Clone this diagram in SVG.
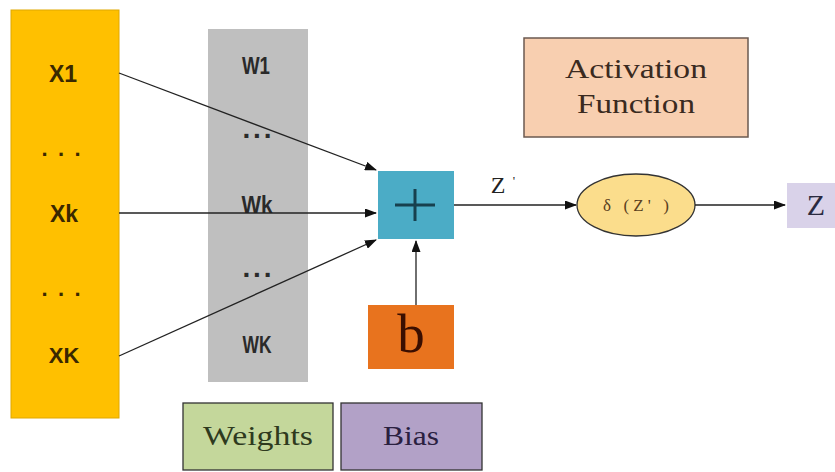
<svg xmlns="http://www.w3.org/2000/svg" width="835" height="472" viewBox="0 0 835 472">
<style>
.sans{font-family:"Liberation Sans",Arial,sans-serif;font-weight:bold;fill:#3a2800;text-anchor:middle}
.wt{font-family:"Liberation Sans",Arial,sans-serif;font-weight:bold;fill:#2a2a2a;text-anchor:middle}
.serif{font-family:"Liberation Serif","Times New Roman",serif;text-anchor:middle}
.conn{stroke:#222;stroke-width:1.3;fill:none;marker-end:url(#ah)}
</style>
<defs>
<marker id="ah" markerWidth="12" markerHeight="9" refX="11" refY="4.5" orient="auto" markerUnits="userSpaceOnUse">
<path d="M0,0 L12,4.5 L0,9 Z" fill="#111"/>
</marker>
</defs>
<rect width="835" height="472" fill="#fff"/>
<g id="inputs">
<rect x="11" y="10" width="108" height="408" fill="#FFC000" stroke="#E0A800" stroke-width="1"/>
<text class="sans" x="63" y="82" font-size="23">X1</text>
<text class="sans" x="61" y="156" font-size="22" textLength="39" lengthAdjust="spacing">. . .</text>
<text class="sans" x="64" y="222" font-size="23">Xk</text>
<text class="sans" x="61" y="296" font-size="22" textLength="39" lengthAdjust="spacing">. . .</text>
<text class="sans" x="64" y="363" font-size="22">XK</text>
</g>
<g id="weights-col">
<rect x="208" y="29" width="100" height="353" fill="#BFBFBF"/>
<text class="wt" x="256" y="74" font-size="23" textLength="28" lengthAdjust="spacingAndGlyphs">W1</text>
<text class="wt" x="257" y="138" font-size="28" textLength="29" lengthAdjust="spacing">...</text>
<text class="wt" x="257" y="213" font-size="24" textLength="31" lengthAdjust="spacingAndGlyphs">Wk</text>
<text class="wt" x="257" y="277" font-size="28" textLength="29" lengthAdjust="spacing">...</text>
<text class="wt" x="257" y="353" font-size="24" textLength="29" lengthAdjust="spacingAndGlyphs">WK</text>
</g>
<g id="sum">
<rect x="378" y="171" width="76" height="68" fill="#4BACC6"/>
<path d="M395,205 H435 M415,189 V221" stroke="#17404E" stroke-width="3"/>
</g>
<g id="bias-b">
<rect x="368" y="305" width="86" height="64" fill="#E8731E"/>
<text class="serif" x="411" y="352" font-size="55" fill="#3a0e00">b</text>
</g>
<g id="activation">
<rect x="524" y="38" width="224" height="99" fill="#F8CFB0" stroke="#6b5a50" stroke-width="1.5"/>
<text class="serif" x="636" y="78" font-size="28" fill="#3a2a20" textLength="142" lengthAdjust="spacingAndGlyphs">Activation</text>
<text class="serif" x="636" y="113" font-size="28" fill="#3a2a20" textLength="118" lengthAdjust="spacingAndGlyphs">Function</text>
</g>
<g id="sigma">
<ellipse cx="636" cy="205" rx="59" ry="31" fill="#FBDD8C" stroke="#333" stroke-width="1.3"/>
<text class="serif" x="636" y="211" font-size="17" fill="#5a4020" textLength="66" lengthAdjust="spacing">δ (Z' )</text>
</g>
<g id="output-z">
<rect x="787" y="183" width="48" height="45" fill="#D9D2E9"/>
<text class="serif" x="816" y="215" font-size="30" fill="#2a2a40">Z</text>
</g>
<g id="legend-weights">
<rect x="183" y="403" width="150" height="67" fill="#C4D79B" stroke="#333" stroke-width="1.3"/>
<text class="serif" x="258" y="445" font-size="28" fill="#2e3a1e" textLength="110" lengthAdjust="spacingAndGlyphs">Weights</text>
</g>
<g id="legend-bias">
<rect x="341" y="403" width="141" height="67" fill="#B2A1C7" stroke="#333" stroke-width="1.3"/>
<text class="serif" x="411" y="445" font-size="28" fill="#2a2040" textLength="56" lengthAdjust="spacingAndGlyphs">Bias</text>
</g>
<g id="connectors">
<line class="conn" x1="119" y1="73" x2="376" y2="170"/>
<line class="conn" x1="119" y1="213" x2="376" y2="213"/>
<line class="conn" x1="119" y1="356" x2="376" y2="240"/>
<line class="conn" x1="416" y1="305" x2="416" y2="241"/>
<line class="conn" x1="454" y1="205" x2="576" y2="205"/>
<line class="conn" x1="695" y1="205" x2="785" y2="205"/>
<text class="serif" x="498" y="193" font-size="24" fill="#222" text-anchor="start">Z</text>
<text class="serif" x="514" y="185" font-size="13" fill="#222" text-anchor="start">'</text>
</g>
</svg>
